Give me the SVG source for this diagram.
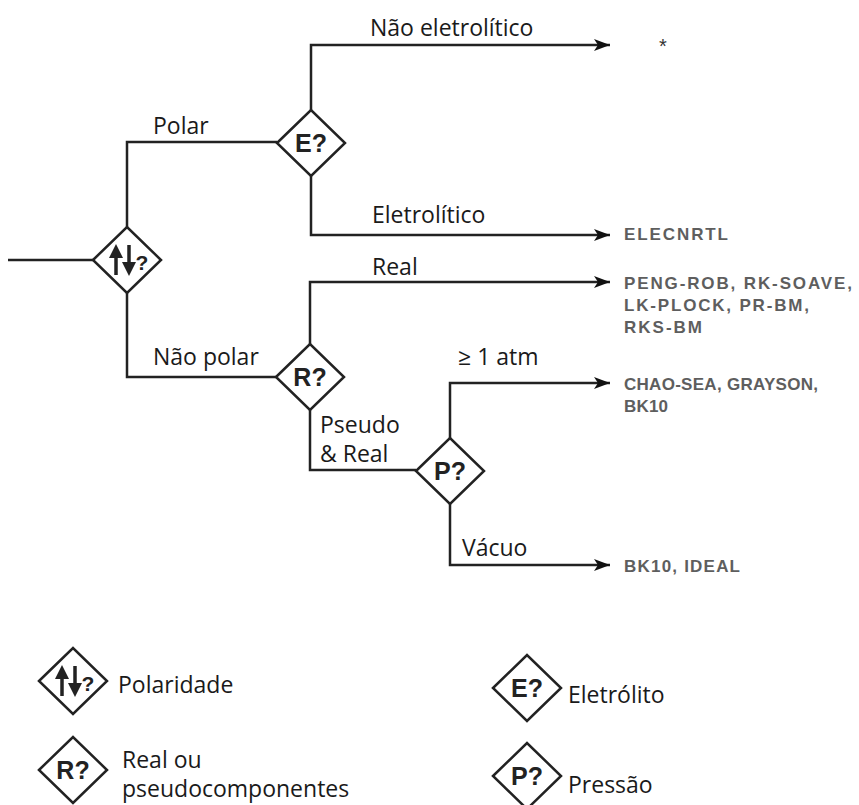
<svg xmlns="http://www.w3.org/2000/svg" width="859" height="805" viewBox="0 0 859 805">
<style>
.ln{fill:none;stroke:#222;stroke-width:2.5}
.dm{fill:#fff;stroke:#222;stroke-width:2.5;stroke-linejoin:miter}
.sym{font-family:"Liberation Sans",Arial,sans-serif;font-weight:bold;font-size:25px;fill:#222;text-anchor:middle}
.lab{font-family:"Open Sans","Noto Sans",sans-serif;font-size:23px;fill:#1a1a1a}
.res{font-family:"Liberation Sans",Arial,sans-serif;font-weight:bold;font-size:17px;fill:#5e5e5e}
</style>
<defs>
<marker id="ah" markerUnits="userSpaceOnUse" markerWidth="18" markerHeight="12" refX="16" refY="6" orient="auto">
<path d="M0,0 L16,6 L0,12 L4,6 Z" fill="#111"/>
</marker>
<polygon id="dia" points="-34,0 0,-33 34,0 0,33"/>
<g id="polsym">
<line x1="-11" y1="15" x2="-11" y2="-8" stroke="#222" stroke-width="3.5"/>
<polygon points="-18,-2 -11,-16 -4,-2" fill="#222"/>
<line x1="2" y1="-15" x2="2" y2="8" stroke="#222" stroke-width="3.5"/>
<polygon points="-5,2 2,16 9,2" fill="#222"/>
<text x="15" y="10" style="font-family:'Liberation Sans',Arial,sans-serif;font-weight:bold;font-size:21px;fill:#222;text-anchor:middle">?</text>
</g>
</defs>
<rect width="859" height="805" fill="#fff"/>

<g id="connectors">
<path class="ln" d="M8,260 H93"/>
<path class="ln" d="M127,227 V142 H277"/>
<path class="ln" d="M127,293 V377 H276"/>
<path class="ln" d="M311,110 V45 H610" marker-end="url(#ah)"/>
<path class="ln" d="M311,176 V235 H610" marker-end="url(#ah)"/>
<path class="ln" d="M310,344 V282 H610" marker-end="url(#ah)"/>
<path class="ln" d="M310,410 V470 H416"/>
<path class="ln" d="M450,438 V383 H610" marker-end="url(#ah)"/>
<path class="ln" d="M450,504 V565 H610" marker-end="url(#ah)"/>
</g>

<g id="labels">
<text class="lab" x="370" y="36">Não eletrolítico</text>
<text class="lab" x="153" y="134">Polar</text>
<text class="lab" x="372" y="223">Eletrolítico</text>
<text class="lab" x="372" y="275">Real</text>
<text class="lab" x="153" y="365">Não polar</text>
<text class="lab" x="458" y="365">≥ 1 atm</text>
<text class="lab" x="320" y="433">Pseudo</text>
<text class="lab" x="320" y="462">&amp; Real</text>
<text class="lab" x="462" y="556">Vácuo</text>
</g>

<g id="node-polaridade">
<use href="#dia" class="dm" x="127" y="260"/>
<use href="#polsym" x="127" y="260"/>
</g>
<g id="node-eletrolito">
<use href="#dia" class="dm" x="311" y="143"/>
<text class="sym" x="311" y="152">E?</text>
</g>
<g id="node-real">
<use href="#dia" class="dm" x="310" y="377"/>
<text class="sym" x="310" y="386">R?</text>
</g>
<g id="node-pressao">
<use href="#dia" class="dm" x="450" y="471"/>
<text class="sym" x="450" y="480">P?</text>
</g>

<g id="results">
<text x="663" y="53" style="font-family:'Liberation Sans',Arial,sans-serif;font-size:20px;fill:#333;text-anchor:middle">*</text>
<text class="res" x="624" y="240" textLength="104" lengthAdjust="spacing">ELECNRTL</text>
<text class="res" x="624" y="289" textLength="228" lengthAdjust="spacing">PENG-ROB, RK-SOAVE,</text>
<text class="res" x="624" y="311" textLength="185" lengthAdjust="spacing">LK-PLOCK, PR-BM,</text>
<text class="res" x="624" y="333" textLength="78" lengthAdjust="spacing">RKS-BM</text>
<text class="res" x="624" y="390" textLength="194" lengthAdjust="spacing">CHAO-SEA, GRAYSON,</text>
<text class="res" x="624" y="412" textLength="44" lengthAdjust="spacing">BK10</text>
<text class="res" x="624" y="572" textLength="116" lengthAdjust="spacing">BK10, IDEAL</text>
</g>

<g id="legend-polaridade">
<use href="#dia" class="dm" x="73" y="681"/>
<use href="#polsym" x="73" y="681"/>
<text class="lab" x="118" y="693">Polaridade</text>
</g>
<g id="legend-real">
<use href="#dia" class="dm" x="73" y="770"/>
<text class="sym" x="73" y="779">R?</text>
<text class="lab" x="122" y="768">Real ou</text>
<text class="lab" x="122" y="797">pseudocomponentes</text>
</g>
<g id="legend-eletrolito">
<use href="#dia" class="dm" x="527" y="688"/>
<text class="sym" x="527" y="697">E?</text>
<text class="lab" x="568" y="703">Eletrólito</text>
</g>
<g id="legend-pressao">
<use href="#dia" class="dm" x="527" y="776"/>
<text class="sym" x="527" y="785">P?</text>
<text class="lab" x="568" y="793">Pressão</text>
</g>
</svg>
